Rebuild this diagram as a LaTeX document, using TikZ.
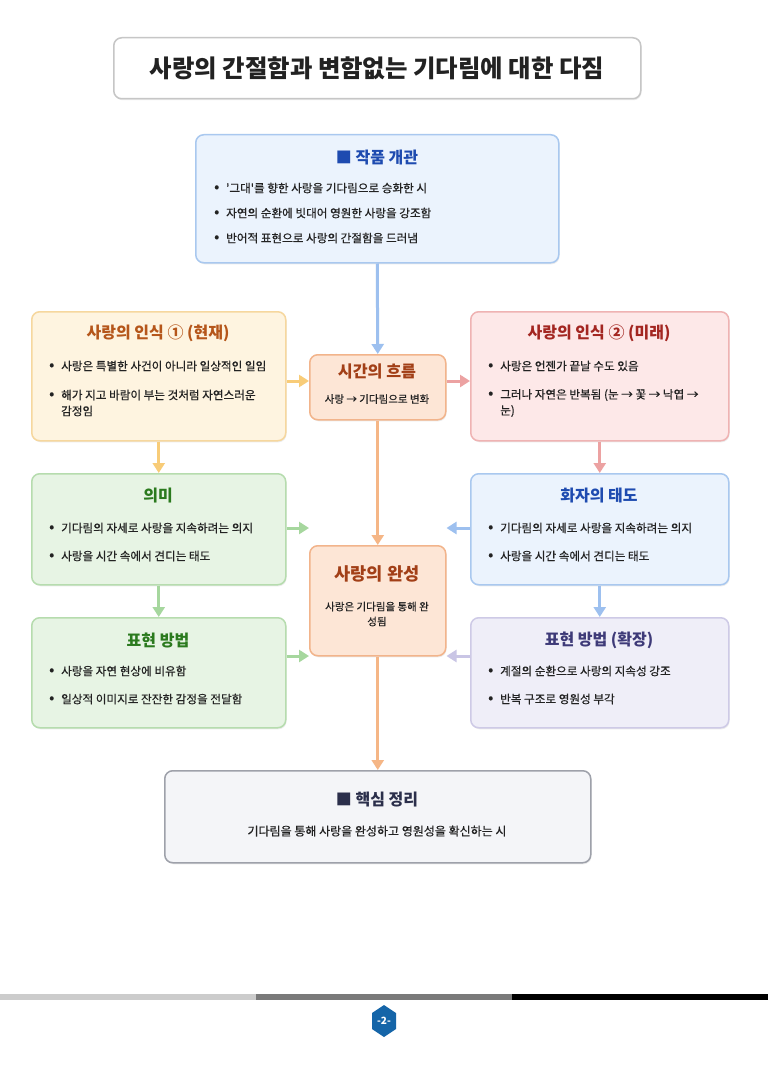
\documentclass[tikz,border=0pt]{standalone}
\usepackage{fontspec}
\setmainfont{Noto Sans CJK KR}
\newfontfamily\bodyf[FakeBold=0.5]{Noto Sans CJK KR}
\usetikzlibrary{arrows.meta,shadows}
\definecolor{txt}{HTML}{222222}
\definecolor{blueF}{HTML}{EBF3FD}\definecolor{blueB}{HTML}{A9C8EF}\definecolor{blueT}{HTML}{1E4BB0}\definecolor{blueA}{HTML}{9DC0EF}
\definecolor{yelF}{HTML}{FEF4E0}\definecolor{yelB}{HTML}{F6D79E}\definecolor{yelT}{HTML}{B5561A}\definecolor{yelA}{HTML}{F8CC78}
\definecolor{pinkF}{HTML}{FDE8E8}\definecolor{pinkB}{HTML}{EFB3B3}\definecolor{pinkT}{HTML}{A32621}\definecolor{pinkA}{HTML}{ECA2A2}
\definecolor{peachF}{HTML}{FDE6D6}\definecolor{peachB}{HTML}{F2B48B}\definecolor{peachT}{HTML}{A23F17}\definecolor{peachA}{HTML}{F5B686}
\definecolor{grnF}{HTML}{E7F4E4}\definecolor{grnB}{HTML}{B6DCAE}\definecolor{grnT}{HTML}{2B7A1E}\definecolor{grnA}{HTML}{A6D79E}
\definecolor{lavF}{HTML}{EFEEF8}\definecolor{lavB}{HTML}{CECAE6}\definecolor{lavT}{HTML}{3E3A78}\definecolor{lavA}{HTML}{C9C5E5}
\definecolor{gryF}{HTML}{F4F5F8}\definecolor{gryB}{HTML}{9EA1AA}\definecolor{gryT}{HTML}{2B2F4B}
\definecolor{hexC}{HTML}{1565A8}
\newcommand\bl[1]{\makebox[12pt][l]{\raisebox{0.05em}{\fontsize{15}{15}\selectfont •}}#1}
\begin{document}
\begin{tikzpicture}[x=1pt,y=-1pt,
  panel/.style={draw, rounded corners=8pt, line width=1.5pt, anchor=north west, inner sep=0pt,
    drop shadow={opacity=0.12,shadow xshift=0.8pt,shadow yshift=-1.5pt,fill=black!60}},
  ttl/.style={font=\fontsize{16}{19}\selectfont\bfseries, inner sep=0pt},
  bul/.style={anchor=west, align=left, font=\bodyf\fontsize{11.6}{16}\selectfont, inner sep=0pt, text=txt},
  sub/.style={align=center, font=\bodyf\fontsize{10.5}{15}\selectfont, inner sep=0pt, text=txt},
  arr/.style={line width=3pt, -{Triangle[width=12pt,length=10pt]}},
]
\useasboundingbox (0,0) rectangle (768,1086);
\fill[white] (0,0) rectangle (768,1086);

% title
\node[panel, draw=gray!45, fill=white, minimum width=527pt, minimum height=61pt] (title) at (113,37) {};
\node[font=\fontsize{24.4}{28}\selectfont\bfseries, text=txt, inner sep=0pt] (titleT) at (377,68) {사랑의 간절함과 변함없는 기다림에 대한 다짐};

% overview
\node[panel, draw=blueB, fill=blueF, minimum width=363pt, minimum height=128pt] (ov) at (195,134) {};
\node[ttl, text=blueT] (ovT) at (377,158) {■ 작품 개관};
\node[bul] (ov1) at (214,188) {\bl{'그대'를 향한 사랑을 기다림으로 승화한 시}};
\node[bul] (ov2) at (214,213) {\bl{자연의 순환에 빗대어 영원한 사랑을 강조함}};
\node[bul] (ov3) at (214,238) {\bl{반어적 표현으로 사랑의 간절함을 드러냄}};

% left 1
\node[panel, draw=yelB, fill=yelF, minimum width=254pt, minimum height=129pt] (l1) at (31,311) {};
\node[ttl, text=yelT] (l1T) at (158,333) {사랑의 인식 ① (현재)};
\node[bul] (l1a) at (49,366) {\bl{사랑은 특별한 사건이 아니라 일상적인 일임}};
\node[bul] (l1b) at (49,403) {\bl{해가 지고 바람이 부는 것처럼 자연스러운}\\\hspace*{12pt}감정임};

% right 1
\node[panel, draw=pinkB, fill=pinkF, minimum width=258pt, minimum height=129pt] (r1) at (470,311) {};
\node[ttl, text=pinkT] (r1T) at (599,333) {사랑의 인식 ② (미래)};
\node[bul] (r1a) at (488,366) {\bl{사랑은 언젠가 끝날 수도 있음}};
\node[bul] (r1b) at (488,403) {\bl{그러나 자연은 반복됨 (눈 → 꽃 → 낙엽 →}\\\hspace*{12pt}눈)};

% center 1
\node[panel, draw=peachB, fill=peachF, minimum width=136pt, minimum height=65pt] (tf) at (309,354) {};
\node[ttl, text=peachT, font=\fontsize{16.2}{19}\selectfont\bfseries] (tfT) at (377,371) {시간의 흐름};
\node[sub] (tfS) at (377,399) {사랑 → 기다림으로 변화};

% left 2
\node[panel, draw=grnB, fill=grnF, minimum width=254pt, minimum height=111pt] (l2) at (31,473) {};
\node[ttl, text=grnT] (l2T) at (158,496) {의미};
\node[bul] (l2a) at (49,528) {\bl{기다림의 자세로 사랑을 지속하려는 의지}};
\node[bul] (l2b) at (49,556) {\bl{사랑을 시간 속에서 견디는 태도}};

% right 2
\node[panel, draw=blueB, fill=blueF, minimum width=258pt, minimum height=111pt] (r2) at (470,473) {};
\node[ttl, text=blueT] (r2T) at (599,496) {화자의 태도};
\node[bul] (r2a) at (488,528) {\bl{기다림의 자세로 사랑을 지속하려는 의지}};
\node[bul] (r2b) at (488,556) {\bl{사랑을 시간 속에서 견디는 태도}};

% center 2
\node[panel, draw=peachB, fill=peachF, minimum width=136pt, minimum height=110pt] (c2) at (309,545) {};
\node[ttl, text=peachT, font=\fontsize{17.6}{20}\selectfont\bfseries] (c2T) at (377,574) {사랑의 완성};
\node[sub] (c2S) at (377,614) {사랑은 기다림을 통해 완\\성됨};

% left 3
\node[panel, draw=grnB, fill=grnF, minimum width=254pt, minimum height=110pt] (l3) at (31,617) {};
\node[ttl, text=grnT] (l3T) at (158,640) {표현 방법};
\node[bul] (l3a) at (49,671) {\bl{사랑을 자연 현상에 비유함}};
\node[bul] (l3b) at (49,699) {\bl{일상적 이미지로 잔잔한 감정을 전달함}};

% right 3
\node[panel, draw=lavB, fill=lavF, minimum width=258pt, minimum height=110pt] (r3) at (470,617) {};
\node[ttl, text=lavT] (r3T) at (599,640) {표현 방법 (확장)};
\node[bul] (r3a) at (488,671) {\bl{계절의 순환으로 사랑의 지속성 강조}};
\node[bul] (r3b) at (488,699) {\bl{반복 구조로 영원성 부각}};

% bottom
\node[panel, draw=gryB, fill=gryF, minimum width=426pt, minimum height=92pt] (bt) at (164,770) {};
\node[ttl, text=gryT] (btT) at (377,800) {■ 핵심 정리};
\node[sub, font=\bodyf\fontsize{12}{15}\selectfont] (btS) at (377,831) {기다림을 통해 사랑을 완성하고 영원성을 확신하는 시};

% row coordinates
\coordinate (rowA) at (0,381);
\coordinate (rowB) at (0,528);
\coordinate (rowC) at (0,656);

% arrows
\draw[arr, blueA] (ov.south) -- (tf.north);
\draw[arr, yelA] (l1.east |- rowA) -- (tf.west |- rowA);
\draw[arr, pinkA] (tf.east |- rowA) -- (r1.west |- rowA);
\draw[arr, yelA] (l1.south) -- (l2.north);
\draw[arr, pinkA] (r1.south) -- (r2.north);
\draw[arr, peachA] (tf.south) -- (c2.north);
\draw[arr, grnA] (l2.east |- rowB) -- (c2.west |- rowB);
\draw[arr, blueA] (r2.west |- rowB) -- (c2.east |- rowB);
\draw[arr, grnA] (l2.south) -- (l3.north);
\draw[arr, blueA] (r2.south) -- (r3.north);
\draw[arr, grnA] (l3.east |- rowC) -- (c2.west |- rowC);
\draw[arr, lavA] (r3.west |- rowC) -- (c2.east |- rowC);
\draw[arr, peachA] (c2.south) -- (bt.north);

% footer
\fill[gray!40] (0,994) rectangle (256,1000);
\fill[black!52] (256,994) rectangle (512,1000);
\fill[black] (512,994) rectangle (768,1000);
\fill[hexC] (384,1005) -- (396,1013) -- (396,1029) -- (384,1037) -- (372,1029) -- (372,1013) -- cycle;
\node[text=white, font=\fontsize{10}{12}\selectfont\bfseries, inner sep=0pt] (pg) at (384,1021) {-2-};
\end{tikzpicture}
\end{document}
